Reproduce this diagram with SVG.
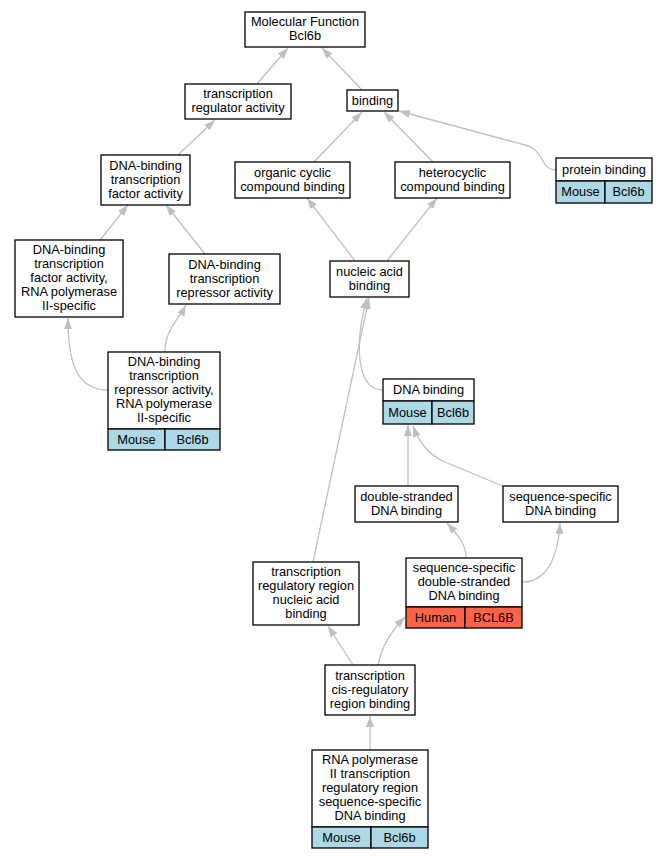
<svg xmlns="http://www.w3.org/2000/svg" width="668" height="859" viewBox="0 0 668 859">
<defs>
<style>
.n rect{fill:#fff;stroke:#000;stroke-width:1.3}
.n rect.b{fill:#add8e6}
.n rect.r{fill:#ff6347}
text{font-family:"Liberation Sans",Arial,sans-serif;font-size:12.8px;text-anchor:middle;fill:#000}
.e path{fill:none;stroke:#c0c0c0;stroke-width:1.3;marker-end:url(#a)}
</style>
<marker id="a" markerUnits="userSpaceOnUse" markerWidth="11" markerHeight="8" refX="11" refY="4" orient="auto">
<path d="M0,0 L11,4 L0,8 z" fill="#c0c0c0"/>
</marker>
</defs>
<rect width="668" height="859" fill="#fff"/>
<g class="e" id="edges">
<path d="M257,84 L288,48"/>
<path d="M362,90 L322,48"/>
<path d="M556,170 C540,170 545,150 525,145 L399,111"/>
<path d="M178,155 L215,120"/>
<path d="M314,162 L362,112"/>
<path d="M433,162 L384,112"/>
<path d="M100,240 L128,205"/>
<path d="M205,254 L166,205"/>
<path d="M355,261 L307,198"/>
<path d="M387,261 L437,198"/>
<path d="M108,390 C75,390 68,360 68,318"/>
<path d="M165,352 C165,330 178,320 186,305"/>
<path d="M383,390 C355,390 355,340 367,298"/>
<path d="M313,562 L369,298"/>
<path d="M408,486 L408,425"/>
<path d="M505,487 L445,462 C430,455 420,445 413,426"/>
<path d="M466,557 C466,545 458,535 447,523"/>
<path d="M523,582 C545,582 558,560 560,523"/>
<path d="M353,665 L328,626"/>
<path d="M378,665 C382,645 392,630 405,617"/>
<path d="M370,750 L370,716"/>
</g>
<g class="n" id="mf"><rect x="245" y="12" width="120" height="35"/><text x="305" y="26">Molecular Function</text><text x="305" y="40">Bcl6b</text></g>
<g class="n" id="tra"><rect x="185" y="84" width="106" height="35"/><text x="238" y="98">transcription</text><text x="238" y="112">regulator activity</text></g>
<g class="n" id="binding"><rect x="347" y="90" width="51" height="21"/><text x="372.5" y="104.5">binding</text></g>
<g class="n" id="dbtfa"><rect x="101" y="155" width="89" height="50"/><text x="145.5" y="169.5">DNA-binding</text><text x="145.5" y="183.5">transcription</text><text x="145.5" y="197.5">factor activity</text></g>
<g class="n" id="occb"><rect x="235" y="162" width="115" height="36"/><text x="292.5" y="176.5">organic cyclic</text><text x="292.5" y="190.5">compound binding</text></g>
<g class="n" id="hcb"><rect x="395" y="162" width="115" height="36"/><text x="452.5" y="176.5">heterocyclic</text><text x="452.5" y="190.5">compound binding</text></g>
<g class="n" id="pb"><rect x="556" y="158" width="96" height="23"/><rect class="b" x="556" y="181" width="49" height="22"/><rect class="b" x="605" y="181" width="47" height="22"/><text x="604" y="173.5">protein binding</text><text x="580.5" y="196">Mouse</text><text x="628.5" y="196">Bcl6b</text></g>
<g class="n" id="dbtfa2"><rect x="15" y="240" width="108" height="77"/><text x="69" y="254">DNA-binding</text><text x="69" y="268">transcription</text><text x="69" y="282">factor activity,</text><text x="69" y="296">RNA polymerase</text><text x="69" y="310">II-specific</text></g>
<g class="n" id="dbtra"><rect x="169" y="254" width="111" height="50"/><text x="224.5" y="268.5">DNA-binding</text><text x="224.5" y="282.5">transcription</text><text x="224.5" y="296.5">repressor activity</text></g>
<g class="n" id="nab"><rect x="330" y="261" width="79" height="36"/><text x="369.5" y="275.5">nucleic acid</text><text x="369.5" y="289.5">binding</text></g>
<g class="n" id="dbtra2"><rect x="108" y="352" width="112" height="77"/><rect class="b" x="108" y="429" width="57" height="21"/><rect class="b" x="165" y="429" width="55" height="21"/><text x="164" y="366">DNA-binding</text><text x="164" y="380">transcription</text><text x="164" y="394">repressor activity,</text><text x="164" y="408">RNA polymerase</text><text x="164" y="422">II-specific</text><text x="136.5" y="443.5">Mouse</text><text x="192.5" y="443.5">Bcl6b</text></g>
<g class="n" id="dnab"><rect x="383" y="379" width="91" height="22"/><rect class="b" x="383" y="401" width="49" height="23"/><rect class="b" x="432" y="401" width="42" height="23"/><text x="428.5" y="394">DNA binding</text><text x="407.5" y="416.5">Mouse</text><text x="453" y="416.5">Bcl6b</text></g>
<g class="n" id="dsdna"><rect x="355" y="486" width="103" height="36"/><text x="406.5" y="500.5">double-stranded</text><text x="406.5" y="514.5">DNA binding</text></g>
<g class="n" id="ssdna"><rect x="503" y="486" width="115" height="36"/><text x="560.5" y="500.5">sequence-specific</text><text x="560.5" y="514.5">DNA binding</text></g>
<g class="n" id="trrnab"><rect x="253" y="562" width="106" height="63"/><text x="306" y="576">transcription</text><text x="306" y="590">regulatory region</text><text x="306" y="604">nucleic acid</text><text x="306" y="618">binding</text></g>
<g class="n" id="ssds"><rect x="406" y="558" width="116" height="49"/><rect class="r" x="406" y="607" width="59" height="21"/><rect class="r" x="465" y="607" width="57" height="21"/><text x="464" y="572">sequence-specific</text><text x="464" y="586">double-stranded</text><text x="464" y="600">DNA binding</text><text x="435.5" y="621.5">Human</text><text x="493.5" y="621.5">BCL6B</text></g>
<g class="n" id="tcrb"><rect x="325" y="665" width="90" height="50"/><text x="370" y="679.5">transcription</text><text x="370" y="693.5">cis-regulatory</text><text x="370" y="707.5">region binding</text></g>
<g class="n" id="rnap"><rect x="312" y="750" width="116" height="77"/><rect class="b" x="312" y="827" width="59" height="21"/><rect class="b" x="371" y="827" width="57" height="21"/><text x="370" y="764">RNA polymerase</text><text x="370" y="778">II transcription</text><text x="370" y="792">regulatory region</text><text x="370" y="806">sequence-specific</text><text x="370" y="820">DNA binding</text><text x="341.5" y="841.5">Mouse</text><text x="399.5" y="841.5">Bcl6b</text></g>
</svg>
